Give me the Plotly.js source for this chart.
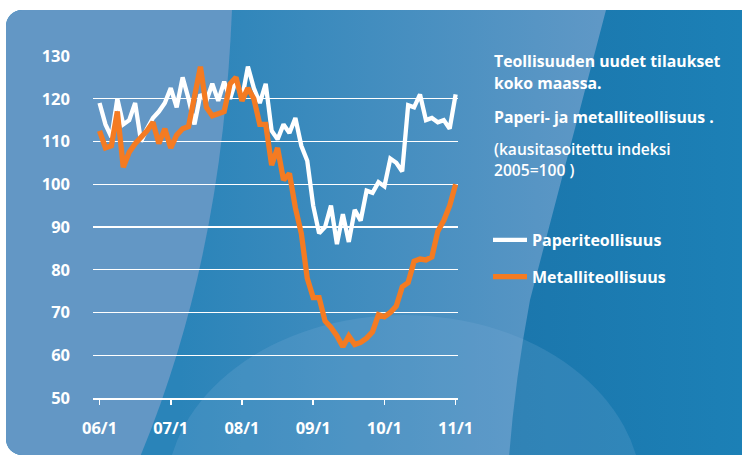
<!DOCTYPE html>
<html>
<head>
<meta charset="utf-8">
<script src="https://cdn.plot.ly/plotly-3.0.1.min.js"></script>
<style>
  html, body { margin: 0; padding: 0; background: #ffffff; }
  #chart { width: 742px; height: 457px; }
</style>
</head>
<body>
<div id="chart"></div>
<script>
// ---- data (monthly, 2006/1 .. 2011/1) ----
var tickLabels = ['06/1', '07/1', '08/1', '09/1', '10/1', '11/1'];
var tickMonths = [0, 12, 24, 36, 48, 60];

var paperi = [
  119, 114, 111, 120, 114, 115, 119, 110, 113, 115.5, 117, 119,
  122.5, 118, 125, 120, 114, 121, 119.5, 123.5, 119.5, 124, 120, 124.5,
  120, 127.5, 122.5, 119, 123.5, 112.5, 110.5, 114, 112, 115.5, 109, 105.5,
  95, 88.5, 90, 95, 86, 93, 86.5, 94, 91.5, 98.5, 98, 100.5,
  99.5, 106, 105, 103, 118.5, 118, 121, 115, 115.5, 114.5, 115, 113,
  121
];
var metalli = [
  112.5, 108.5, 109, 117, 104, 107.5, 109.5, 111, 112.5, 114.5, 109.5, 113,
  108.5, 111.5, 113, 113.5, 121, 127.5, 118, 116, 116.5, 117, 123.5, 125,
  119.5, 122.5, 120, 114, 114, 104.5, 108.5, 101, 102.5, 94.5, 88.5, 78,
  73.5, 73.5, 68, 66.5, 64.5, 62, 64.5, 62.5, 63, 64, 65.5, 69.5,
  69, 70, 71.5, 76, 77, 82, 82.5, 82.3, 83, 89, 91.5, 95,
  100
];
var seriesNames = ['Paperiteollisuus', 'Metalliteollisuus'];
var titleLines = ['Teollisuuden uudet tilaukset', 'koko maassa.', 'Paperi- ja metalliteollisuus .'];
var noteLines = ['(kausitasoitettu indeksi', '2005=100 )'];

// ---- geometry ----
var W = 742, H = 457;
var M = { l: 93, r: 284, t: 56, b: 59 };
var PW = W - M.l - M.r, PH = H - M.t - M.b;
function px(x) { return (x - M.l) / PW; }
function py(y) { return 1 - (y - M.t) / PH; }

var months = paperi.map(function (_, i) { return i; });

var FONT = 'Open Sans, Noto Sans, sans-serif';

// background decoration (card)
var svg =
 '<svg xmlns="http://www.w3.org/2000/svg" width="742" height="457" viewBox="0 0 742 457">' +
 '<defs>' +
 '<clipPath id="c"><rect x="6" y="10" width="790" height="445" rx="16" ry="16"/></clipPath>' +
 '<linearGradient id="gm" gradientUnits="userSpaceOnUse" x1="180" y1="0" x2="600" y2="0">' +
 '<stop offset="0" stop-color="#2a84b9"/><stop offset="1" stop-color="#5f98c6"/></linearGradient>' +
 '<linearGradient id="gr" gradientUnits="userSpaceOnUse" x1="500" y1="0" x2="742" y2="0">' +
 '<stop offset="0" stop-color="#1b76ac"/><stop offset="1" stop-color="#1c80b6"/></linearGradient>' +
 '</defs>' +
 '<rect x="0" y="0" width="742" height="457" fill="#ffffff"/>' +
 '<g clip-path="url(#c)">' +
 '<rect x="0" y="0" width="742" height="457" fill="url(#gm)"/>' +
 '<path d="M606,0 L742,0 L742,457 L509,457 Q515,380 530,300 L606,10 Z" fill="url(#gr)"/>' +
 '<ellipse cx="404" cy="495" rx="238" ry="180" fill="#86b5da" opacity="0.2"/>' +
 '<path d="M0,0 L232,0 L232,10 C226,150 205,300 140,457 L0,457 Z" fill="#6397c5"/>' +
 '</g></svg>';
var bgSrc = 'data:image/svg+xml;charset=utf-8,' + encodeURIComponent(svg);

var traces = [
  {
    x: months, y: paperi, type: 'scatter', mode: 'lines',
    name: seriesNames[0], legendgroup: 'a',
    line: { color: '#ffffff', width: 4.3 }
  },
  {
    x: months, y: metalli, type: 'scatter', mode: 'lines',
    name: seriesNames[1], legendgroup: 'b',
    line: { color: '#f47b22', width: 5.3 }
  }
];

var annotations = [];
var titleY = [61, 83.5, 117];
titleLines.forEach(function (t, i) {
  annotations.push({
    text: '<b>' + t + '</b>', xref: 'paper', yref: 'paper',
    x: px(492), y: py(titleY[i]), xanchor: 'left', yanchor: 'middle',
    showarrow: false, font: { family: FONT, size: 15.8, color: '#ffffff' }
  });
});
var noteY = [148.5, 170];
noteLines.forEach(function (t, i) {
  annotations.push({
    text: t, xref: 'paper', yref: 'paper',
    x: px(492), y: py(noteY[i]), xanchor: 'left', yanchor: 'middle',
    showarrow: false, font: { family: FONT, size: 15.6, color: '#ffffff' }
  });
});

var layout = {
  width: W, height: H,
  margin: M,
  paper_bgcolor: '#ffffff',
  plot_bgcolor: 'rgba(0,0,0,0)',
  font: { family: FONT, color: '#ffffff', size: 15, weight: 600 },
  showlegend: true,
  legend: {
    x: px(488), y: py(223), xanchor: 'left', yanchor: 'top',
    bgcolor: 'rgba(0,0,0,0)', borderwidth: 0,
    traceorder: 'grouped', tracegroupgap: 13,
    font: { family: FONT, size: 16, color: '#ffffff', weight: 700 },
    itemwidth: 34
  },
  xaxis: {
    range: [-1.1, 60.4],
    tickvals: tickMonths, ticktext: tickLabels,
    showgrid: false, zeroline: false,
    showline: true, linecolor: '#ffffff', linewidth: 1.5,
    ticks: 'outside', ticklen: 5, tickwidth: 1.5, tickcolor: '#ffffff',
    ticklabelstandoff: 10,
    tickfont: { family: FONT, size: 16.5, color: '#ffffff', weight: 700 },
    fixedrange: true
  },
  yaxis: {
    range: [50, 130], dtick: 10, tick0: 50,
    showgrid: true, gridcolor: '#ffffff', gridwidth: 1.3,
    zeroline: false, showline: false, ticks: '',
    ticklabelstandoff: 22,
    tickfont: { family: FONT, size: 16.5, color: '#ffffff', weight: 700 },
    fixedrange: true
  },
  images: [{
    source: bgSrc, xref: 'paper', yref: 'paper',
    x: px(0), y: py(0), sizex: W / PW, sizey: H / PH,
    xanchor: 'left', yanchor: 'top', sizing: 'stretch', layer: 'below'
  }],
  annotations: annotations
};

Plotly.newPlot('chart', traces, layout, { displayModeBar: false, staticPlot: true });
</script>
</body>
</html>
